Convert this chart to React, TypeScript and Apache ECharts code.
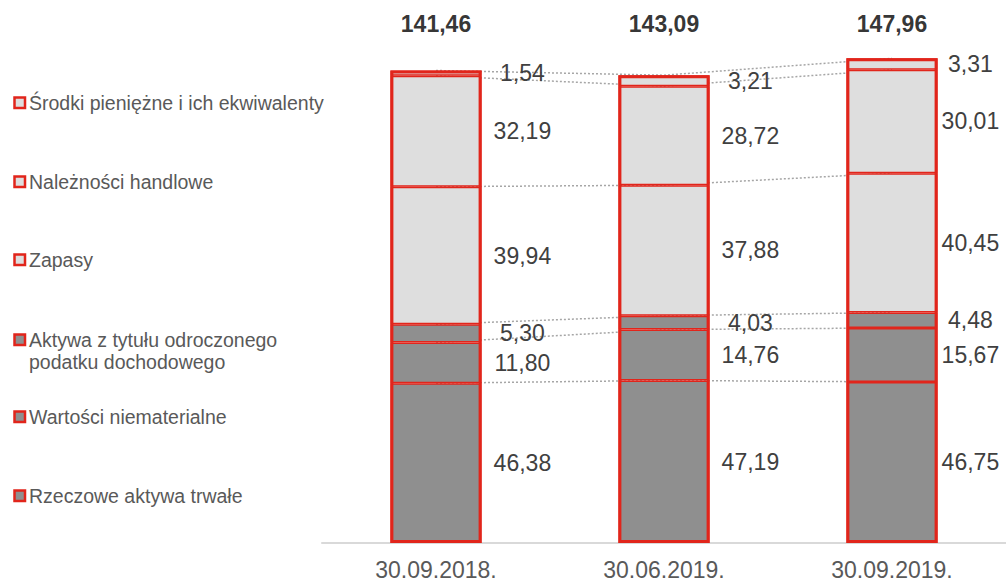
import React, { useEffect, useRef } from "react";
import * as echarts from "echarts";

const categories = ["30.09.2018.", "30.06.2019.", "30.09.2019."];
const rzeczowe = [46.38, 47.19, 46.75];
const wartosci = [11.8, 14.76, 15.67];
const aktywaPodatek = [5.3, 4.03, 4.48];
const zapasy = [39.94, 37.88, 40.45];
const naleznosci = [32.19, 28.72, 30.01];
const srodki = [1.54, 3.21, 3.31];
const totals = [141.46, 143.09, 147.96];

const seriesNames = [
  "Rzeczowe aktywa trwałe",
  "Wartości niematerialne",
  "Aktywa z tytułu odroczonego\npodatku dochodowego",
  "Zapasy",
  "Należności handlowe",
  "Środki pieniężne i ich ekwiwalenty",
];
const seriesValues = [rzeczowe, wartosci, aktywaPodatek, zapasy, naleznosci, srodki];

const RED = "#e1251b";
const LIGHT = "#dedede";
const DARK = "#8f8f8f";
const FONT = "'Liberation Sans', Arial, sans-serif";
const fmt = (v: number) => v.toFixed(2).replace(".", ",");

const LABEL_X = [132, 132, 124];
const TOTAL_LEVEL = 150.6;

export default function App() {
  const ref = useRef<HTMLDivElement>(null);
  useEffect(() => {
    document.body.style.margin = "0";
    if (!ref.current) return;
    const chart = echarts.init(ref.current, null, { renderer: "svg" });

    const barSeries = seriesValues.map((vals, k) => ({
      type: "bar",
      name: seriesNames[k],
      stack: "total",
      barWidth: "40%",
      barGap: "-100%",
      z: 3,
      itemStyle: {
        color: k < 3 ? DARK : LIGHT,
        borderColor: RED,
        borderWidth: 1.5,
      },
      data: vals.map((v, i) => ({
        value: v,
        label: {
          show: true,
          position: [LABEL_X[i], "50%"],
          align: "center",
          verticalAlign: "middle",
          formatter: () => fmt(v),
          color: "#404040",
          fontSize: 23,
          fontFamily: FONT,
        },
      })),
    }));

    // cumulative boundaries for dotted connectors
    const cum: number[][] = [];
    let running = [0, 0, 0];
    seriesValues.forEach((vals) => {
      running = running.map((r, i) => r + vals[i]);
      cum.push(running.slice());
    });
    const connectorSeries = cum.map((arr) => ({
      type: "line",
      data: arr,
      symbol: "none",
      silent: true,
      z: 1,
      lineStyle: { color: "#a6a6a6", width: 1.5, type: [2, 2] },
    }));

    const outlineSeries = {
      type: "bar",
      barWidth: "40%",
      barGap: "-100%",
      silent: true,
      z: 4,
      itemStyle: { color: "rgba(0,0,0,0)", borderColor: RED, borderWidth: 3 },
      data: cum[cum.length - 1],
    };

    const totalSeries = {
      type: "scatter",
      symbolSize: 1,
      itemStyle: { color: "rgba(0,0,0,0)" },
      z: 5,
      data: totals.map((t, i) => ({
        value: [i, TOTAL_LEVEL],
        label: {
          show: true,
          position: "inside",
          formatter: () => fmt(t),
          color: "#000",
          fontWeight: "bold",
          fontSize: 23,
          fontFamily: FONT,
        },
      })),
    };

    const legendCenters = [103, 182, 260, 340, 417, 496];
    const legendOrder = [5, 4, 3, 2, 1, 0];
    const graphics: any[] = [];
    legendOrder.forEach((k, j) => {
      const cy = legendCenters[j];
      graphics.push({
        type: "rect",
        shape: { x: 14.5, y: cy - 5.5, width: 10.5, height: 10.5 },
        style: { fill: k < 3 ? DARK : LIGHT, stroke: RED, lineWidth: 2.5 },
      });
      graphics.push({
        type: "text",
        style: {
          x: 29,
          y: cy - 11,
          text: seriesNames[k],
          font: `19.5px ${FONT}`,
          fill: "#595959",
          verticalAlign: "top",
          lineHeight: 22,
        },
      });
    });

    chart.setOption({
      animation: false,
      grid: { left: 322, right: 0, top: 9, bottom: 36 },
      xAxis: {
        type: "category",
        data: categories,
        axisTick: { show: false },
        axisLine: { lineStyle: { color: "#d9d9d9", width: 2 } },
        axisLabel: {
          color: "#595959",
          fontSize: 23,
          fontFamily: FONT,
          margin: 15,
        },
      },
      yAxis: {
        type: "value",
        min: 0,
        max: 155,
        show: false,
        splitLine: { show: false },
      },
      series: [...connectorSeries, ...barSeries, outlineSeries, totalSeries],
      graphic: graphics,
    });
    return () => chart.dispose();
  }, []);
  return <div ref={ref} style={{ width: 1006, height: 581 }} />;
}
